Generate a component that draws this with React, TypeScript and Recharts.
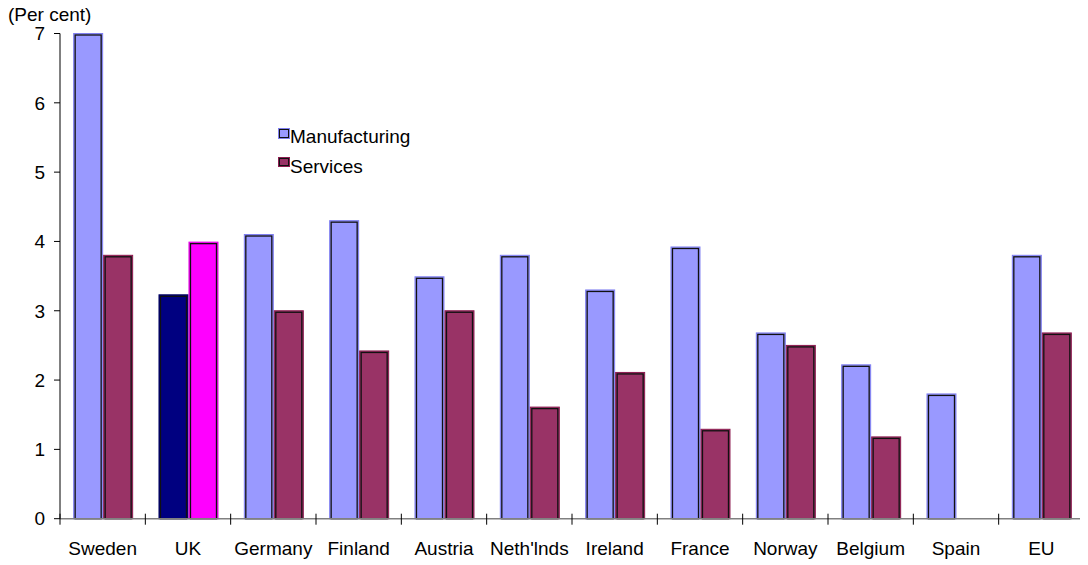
import React from "react";
import { BarChart, Bar, XAxis, YAxis, Cell, Legend } from "recharts";

const categories = ["Sweden", "UK", "Germany", "Finland", "Austria", "Neth'lnds", "Ireland", "France", "Norway", "Belgium", "Spain", "EU"];
const manufacturing = [7.0, 3.23, 4.1, 4.3, 3.49, 3.8, 3.3, 3.92, 2.68, 2.22, 1.8, 3.8];
const services: (number | null)[] = [3.8, 3.99, 3.0, 2.42, 3.0, 1.61, 2.11, 1.29, 2.5, 1.18, null, 2.68];
const yTicks = [0, 1, 2, 3, 4, 5, 6, 7];
const seriesNames = ["Manufacturing", "Services"];

const FONT = "'Liberation Sans', Arial, Helvetica, sans-serif";
const FS = 19;
const MANU_FILL = "#9999FF";
const MANU_EDGE = "#7f7ff0";
const SERV_FILL = "#993366";
const SERV_EDGE = "#8c1c50";
const UK_MANU = "#000080";
const UK_SERV = "#FF00FF";

const data = categories.map((c, i) => ({ name: c, manufacturing: manufacturing[i], services: services[i] }));

const BarShape = (props: any) => {
  const { x, y, width, height, fill, stroke } = props;
  if (!height || height <= 0) return null;
  return (
    <g>
      <rect x={x} y={y} width={width} height={height} fill={fill} stroke={stroke} strokeWidth={1} />
      <rect x={x + 1.5} y={y + 1.5} width={Math.max(0, width - 3)} height={Math.max(0, height - 1.5)} fill="none" stroke="#111" strokeWidth={1.3} />
    </g>
  );
};

const XTick = (props: any) => {
  const { x, y, payload, width, visibleTicksCount } = props;
  const off = payload && typeof payload.offset === "number" && payload.offset > 0 ? payload.offset : width / visibleTicksCount / 2;
  return (
    <g>
      <line x1={x - off} x2={x - off} y1={y - 5} y2={y + 6} stroke="#000" strokeWidth={1} />
      <text x={x} y={y + 36} textAnchor="middle" fontSize={FS} fill="#000" fontFamily={FONT}>
        {payload.value}
      </text>
    </g>
  );
};

const LegendContent = () => (
  <svg width={180} height={60} style={{ display: "block", overflow: "visible" }}>
    <rect x={0.5} y={8.5} width={11} height={10} fill={MANU_FILL} stroke={MANU_EDGE} />
    <rect x={1.5} y={9.5} width={9} height={8} fill="none" stroke="#111" strokeWidth={1} />
    <text x={12} y={23} fontSize={FS} fill="#000" fontFamily={FONT}>{seriesNames[0]}</text>
    <rect x={0.5} y={37.5} width={11} height={9} fill={SERV_FILL} stroke={SERV_EDGE} />
    <rect x={1.5} y={38.5} width={9} height={7} fill="none" stroke="#111" strokeWidth={1} />
    <text x={12} y={53} fontSize={FS} fill="#000" fontFamily={FONT}>{seriesNames[1]}</text>
  </svg>
);

export default function App() {
  return (
    <div style={{ position: "relative", width: 1080, height: 555, fontFamily: FONT }}>
      <div style={{ position: "absolute", left: 0, top: -4, fontSize: FS, lineHeight: "22px", color: "#000", fontFamily: FONT }}>
        (Per cent)
      </div>
      <BarChart
        width={1080}
        height={555}
        data={data}
        margin={{ top: 25.5, right: 4, left: 0, bottom: 0 }}
        barGap={1}
        barCategoryGap="16%"
      >
        <XAxis
          dataKey="name"
          height={44.3}
          axisLine={{ stroke: "#808080", strokeWidth: 1.5 }}
          tickLine={false}
          tickSize={0}
          tickMargin={0}
          interval={0}
          tick={<XTick />}
        />
        <YAxis
          width={52}
          domain={[0, 7]}
          ticks={yTicks}
          interval={0}
          axisLine={{ stroke: "#000" }}
          tickLine={{ stroke: "#000" }}
          tickSize={6}
          tickMargin={9}
          tick={{ fill: "#000", fontSize: FS, fontFamily: FONT }}
        />
        <Legend
          layout="vertical"
          align="center"
          verticalAlign="middle"
          content={<LegendContent />}
          wrapperStyle={{ left: 270, top: 112, width: 180, height: 60 }}
        />
        <Bar dataKey="manufacturing" name={seriesNames[0]} fill={MANU_FILL} stroke={MANU_EDGE} shape={<BarShape />} isAnimationActive={false}>
          {data.map((d, i) => (
            <Cell key={i} fill={d.name === "UK" ? UK_MANU : MANU_FILL} stroke={d.name === "UK" ? "#000060" : MANU_EDGE} />
          ))}
        </Bar>
        <Bar dataKey="services" name={seriesNames[1]} fill={SERV_FILL} stroke={SERV_EDGE} shape={<BarShape />} isAnimationActive={false}>
          {data.map((d, i) => (
            <Cell key={i} fill={d.name === "UK" ? UK_SERV : SERV_FILL} stroke={d.name === "UK" ? "#e000e0" : SERV_EDGE} />
          ))}
        </Bar>
      </BarChart>
    </div>
  );
}
